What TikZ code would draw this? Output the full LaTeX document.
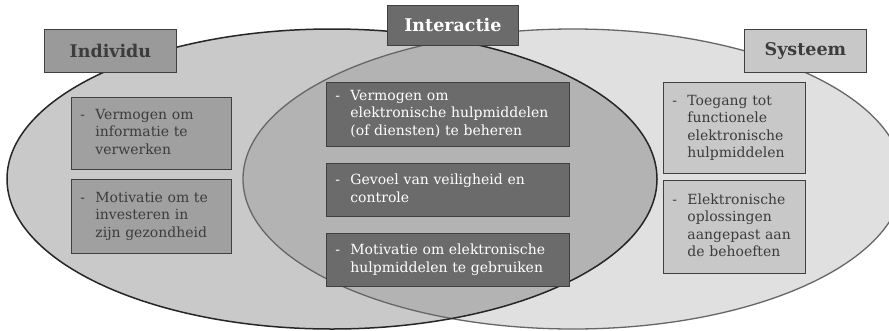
\documentclass[tikz,border=0pt]{standalone}
\usepackage{fontspec}
\setmainfont{DejaVu Serif}

\definecolor{leftfill}{HTML}{C9C9C9}
\definecolor{rightfill}{HTML}{E0E0E0}
\definecolor{midfill}{HTML}{B3B3B3}
\definecolor{leftbox}{HTML}{A0A0A0}
\definecolor{midbox}{HTML}{6B6B6B}
\definecolor{rightbox}{HTML}{C8C8C8}
\definecolor{darktext}{HTML}{3C3C3C}
\definecolor{boxline}{HTML}{404040}

\newcommand{\dashlines}[1]{\begin{tabular}{@{}p{15pt}@{}l@{}}#1\end{tabular}}

\tikzset{
  itembox/.style={draw=boxline, line width=0.8pt, anchor=north west,
    inner xsep=9pt, inner ysep=0pt, align=left,
    font=\fontsize{14}{17.5}\selectfont},
  leftitem/.style={itembox, fill=leftbox, text=darktext, text width=142pt},
  miditem/.style={itembox, fill=midbox, text=white, text width=225pt},
  rightitem/.style={itembox, fill=rightbox, text=darktext, text width=124pt},
  titlebox/.style={draw=boxline, line width=0.8pt, anchor=north west,
    inner sep=0pt, font=\fontsize{17.5}{20}\selectfont\bfseries}
}

\begin{document}
\begin{tikzpicture}[x=1pt, y=-1pt]
  \useasboundingbox (0,0) rectangle (889,330);
  % the two sets
  \fill[leftfill] (332,179) ellipse [x radius=325, y radius=150];
  \fill[rightfill] (573,179) ellipse [x radius=330, y radius=150];
  \begin{scope}
    \clip (332,179) ellipse [x radius=325, y radius=150];
    \fill[midfill] (573,179) ellipse [x radius=330, y radius=150];
  \end{scope}
  \draw[line width=1.3pt, draw=black!60] (573,179) ellipse [x radius=330, y radius=150];
  \draw[line width=1.5pt, draw=black!85] (332,179) ellipse [x radius=325, y radius=150];

  % headings
  \node[titlebox, fill=leftbox!96!black, text=darktext, minimum width=132pt, minimum height=43pt]
    (individu) at (44,29) {Individu};
  \node[titlebox, fill=midbox, text=white, minimum width=131pt, minimum height=40pt]
    (interactie) at (387,5) {Interactie};
  \node[titlebox, fill=rightbox, text=darktext, minimum width=122pt, minimum height=43pt]
    (systeem) at (744,29) {Systeem};

  % individu
  \node[leftitem, minimum height=72pt] (ind1) at (71,97)
    {\dashlines{- & Vermogen om\\ & informatie te\\ & verwerken}};
  \node[leftitem, minimum height=74pt] (ind2) at (71,179)
    {\dashlines{- & Motivatie om te\\ & investeren in\\ & zijn gezondheid}};

  % interactie
  \node[miditem, minimum height=64pt] (int1) at (326,82)
    {\dashlines{- & Vermogen om\\ & elektronische hulpmiddelen\\ & (of diensten) te beheren}};
  \node[miditem, minimum height=53pt] (int2) at (326,163)
    {\dashlines{- & Gevoel van veiligheid en\\ & controle}};
  \node[miditem, minimum height=53pt] (int3) at (326,233)
    {\dashlines{- & Motivatie om elektronische\\ & hulpmiddelen te gebruiken}};

  % systeem
  \node[rightitem, minimum height=91pt] (sys1) at (663,82)
    {\dashlines{- & Toegang tot\\ & functionele\\ & elektronische\\ & hulpmiddelen}};
  \node[rightitem, minimum height=93pt] (sys2) at (663,180)
    {\dashlines{- & Elektronische\\ & oplossingen\\ & aangepast aan\\ & de behoeften}};
\end{tikzpicture}
\end{document}
